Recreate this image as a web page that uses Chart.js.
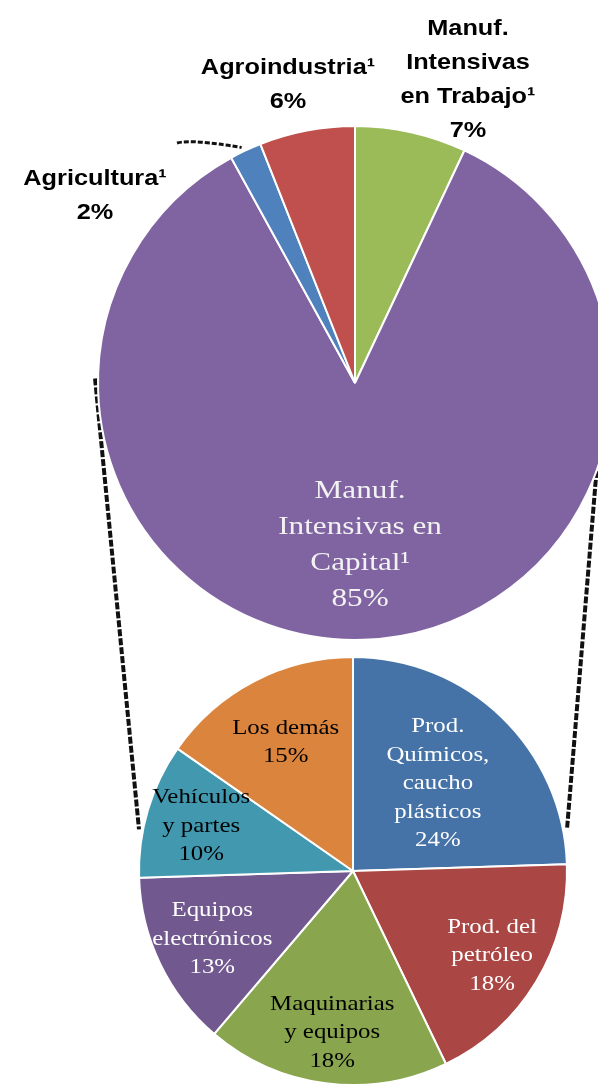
<!DOCTYPE html>
<html>
<head>
<meta charset="utf-8">
<script src="https://cdn.jsdelivr.net/npm/chart.js@4/dist/chart.umd.min.js"></script>
<style>
html,body{margin:0;padding:0;width:598px;height:1085px;overflow:hidden;background:#fff;}
canvas{position:absolute;left:0;}
#lines{top:0;z-index:0;}
#top{top:0;z-index:1;}
#bottom{top:620px;z-index:2;}
</style>
</head>
<body>
<canvas id="lines" width="598" height="1085"></canvas>
<canvas id="top" width="640" height="700"></canvas>
<canvas id="bottom" width="598" height="470"></canvas>
<script>
// ---- data ----
const topLabels = [
  ['Manuf.', 'Intensivas', 'en Trabajo¹'],
  ['Manuf.', 'Intensivas en', 'Capital¹'],
  ['Agricultura¹'],
  ['Agroindustria¹']
];
const topValues = [7, 85, 2, 6];
const topColors = ['#9BBB59', '#8064A2', '#4F81BD', '#C0504D'];

const bottomLabels = [
  ['Prod.', 'Químicos,', 'caucho', 'plásticos'],
  ['Prod. del', 'petróleo'],
  ['Maquinarias', 'y equipos'],
  ['Equipos', 'electrónicos'],
  ['Vehículos', 'y partes'],
  ['Los demás']
];
const bottomValues = [24, 18, 18, 13, 10, 15];
const bottomColors = ['#4572A7', '#AA4643', '#89A54E', '#71588F', '#4198AF', '#DB843D'];

// ---- label plugin ----
const sliceLabels = {
  id: 'sliceLabels',
  afterDatasetsDraw(chart, args, opts) {
    const ctx = chart.ctx;
    const meta = chart.getDatasetMeta(0);
    const values = chart.data.datasets[0].data;
    const names = chart.data.labels;
    meta.data.forEach((arc, i) => {
      const p = opts.pos[i];
      const st = opts.styles[i];
      let x, y;
      if (p.mid !== undefined) {
        const a = (arc.startAngle + arc.endAngle) / 2;
        x = arc.x + Math.cos(a) * arc.outerRadius * p.mid;
        y = arc.y + Math.sin(a) * arc.outerRadius * p.mid;
      } else {
        x = arc.x + p.dx;
        y = arc.y + p.dy;
      }
      const lines = names[i].concat([values[i] + '%']);
      ctx.save();
      ctx.font = st.font;
      ctx.fillStyle = st.color;
      ctx.textAlign = 'center';
      ctx.textBaseline = 'middle';
      const y0 = y - (lines.length - 1) * st.lineHeight / 2;
      lines.forEach((t, k) => {
        ctx.save();
        ctx.translate(x, y0 + k * st.lineHeight);
        ctx.scale(st.scaleX, 1);
        ctx.fillText(t, 0, 0);
        ctx.restore();
      });
      if (p.leader) {
        const a = (arc.startAngle + arc.endAngle) / 2;
        const ex = arc.x + Math.cos(a) * arc.outerRadius;
        const ey = arc.y + Math.sin(a) * arc.outerRadius;
        ctx.strokeStyle = '#111';
        ctx.lineWidth = 3;
        ctx.setLineDash([5, 2]);
        ctx.beginPath();
        ctx.moveTo(arc.x + p.leader[0], arc.y + p.leader[1]);
        ctx.quadraticCurveTo(arc.x + p.leader[0] + 15, arc.y + p.leader[1] - 4, ex - 4, ey - 3);
        ctx.stroke();
      }
      ctx.restore();
    });
  }
};

const common = {
  responsive: false,
  animation: false,
  events: [],
  plugins: { legend: { display: false }, tooltip: { enabled: false } }
};

const boldOut = { font: 'bold 22px "Liberation Sans", Arial, sans-serif', color: '#000', scaleX: 1.15, lineHeight: 34 };
const serifBig = { font: '26px "Liberation Serif", "Times New Roman", serif', color: '#f2f2f2', scaleX: 1.2, lineHeight: 36 };

const topChart = new Chart(document.getElementById('top'), {
  type: 'pie',
  data: {
    labels: topLabels,
    datasets: [{ data: topValues, backgroundColor: topColors, borderColor: '#fff', borderWidth: 2 }]
  },
  options: Object.assign({}, common, {
    layout: { padding: { left: 97, top: 125, right: 27, bottom: 59 } },
    plugins: Object.assign({}, common.plugins, {
      sliceLabels: {
        styles: [boldOut, serifBig, boldOut, boldOut],
        pos: [
          { dx: 113, dy: -303 },
          { mid: 0.63 },
          { dx: -260, dy: -187, leader: [-178, -240] },
          { dx: -67, dy: -298 }
        ]
      }
    })
  }),
  plugins: [sliceLabels]
});

const sW = { font: '22px "Liberation Serif", "Times New Roman", serif', color: '#fff', scaleX: 1.13, lineHeight: 28.5 };
const sB = { font: '22px "Liberation Serif", "Times New Roman", serif', color: '#000', scaleX: 1.13, lineHeight: 28.5 };

const bottomChart = new Chart(document.getElementById('bottom'), {
  type: 'pie',
  data: {
    labels: bottomLabels,
    datasets: [{ data: bottomValues, backgroundColor: bottomColors, borderColor: '#fff', borderWidth: 2 }]
  },
  options: Object.assign({}, common, {
    layout: { padding: { left: 138, top: 36, right: 30, bottom: 4 } },
    plugins: Object.assign({}, common.plugins, {
      sliceLabels: {
        styles: [sW, sW, sB, sW, sB, sB],
        pos: [
          { mid: 0.57 }, { mid: 0.76 }, { mid: 0.76 }, { mid: 0.73 }, { mid: 0.74 }, { mid: 0.68 }
        ]
      }
    })
  }),
  plugins: [sliceLabels]
});

// ---- connector lines between the two pies ----
(function () {
  const a = topChart.getDatasetMeta(0).data[0];
  const b = bottomChart.getDatasetMeta(0).data[0];
  const c1 = { x: a.x, y: a.y, r: a.outerRadius };
  const c2 = { x: b.x, y: b.y + 620, r: b.outerRadius };
  const pt = (c, deg, extra) => {
    const t = (deg - 90) * Math.PI / 180;
    return [c.x + Math.cos(t) * (c.r + extra), c.y + Math.sin(t) * (c.r + extra)];
  };
  const ctx = document.getElementById('lines').getContext('2d');
  ctx.strokeStyle = '#111';
  ctx.lineWidth = 4;
  ctx.setLineDash([7, 2]);
  const segs = [
    [pt(c1, 271, 3), pt(c2, 281, 4)],
    [pt(c1, 110, 0), pt(c2, 79, 4)]
  ];
  segs.forEach(([p, q]) => {
    ctx.beginPath();
    ctx.moveTo(p[0], p[1]);
    ctx.lineTo(q[0], q[1]);
    ctx.stroke();
  });
})();
</script>
</body>
</html>
